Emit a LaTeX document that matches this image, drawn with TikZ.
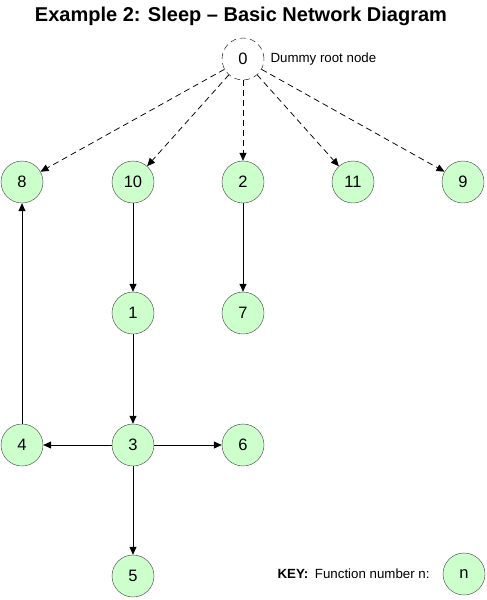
\documentclass[tikz,border=0pt]{standalone}
\usepackage{fontspec}
\setmainfont{Liberation Sans}
\usetikzlibrary{arrows.meta}
\definecolor{nodegreen}{HTML}{CCFFCC}
\definecolor{nodeline}{HTML}{404040}
\begin{document}
\begin{tikzpicture}[x=1pt,y=-1pt,
	fn/.style={draw=nodeline,fill=nodegreen,circle,minimum size=42pt,inner sep=0pt,font=\fontsize{16.5}{19}\selectfont},
	link/.style={-{Triangle[length=8pt,width=7pt]},line width=0.75pt},
	dummy/.style={link,dash pattern=on 6pt off 4pt}]
	\useasboundingbox (0,0) rectangle (487,600);
	\node[font=\bfseries\fontsize{20}{23}\selectfont] (title) at (241,16) {Example 2: Sleep -- Basic Network Diagram};

	\node[fn,fill=white,draw=black,dash pattern=on 6pt off 4pt] (n0) at (243,59) {0};
	\node[anchor=west,font=\fontsize{13.3}{16}\selectfont] (rootlabel) at (267,59) {Dummy root node};
	\node[fn] (n8)  at (22,182)  {8};
	\node[fn] (n10) at (133,182) {10};
	\node[fn] (n2)  at (243,182) {2};
	\node[fn] (n11) at (353,182) {11};
	\node[fn] (n9)  at (463,182) {9};
	\node[fn] (n1)  at (133,313) {1};
	\node[fn] (n7)  at (243,313) {7};
	\node[fn] (n4)  at (22,445)  {4};
	\node[fn] (n3)  at (133,445) {3};
	\node[fn] (n6)  at (243,445) {6};
	\node[fn] (n5)  at (133,576) {5};

	\foreach \to in {n8,n10,n2,n11,n9}
		\draw[dummy] (n0) -- (\to);
	\foreach \from/\to in {n10/n1,n1/n3,n2/n7,n3/n4,n3/n6,n3/n5,n4/n8}
		\draw[link] (\from) -- (\to);

	\node[anchor=west,font=\fontsize{13.3}{16}\selectfont] (key) at (274,574) {\textbf{KEY:}\enspace Function number n:};
	\node[fn] (keynode) at (464,574) {n};
\end{tikzpicture}
\end{document}
